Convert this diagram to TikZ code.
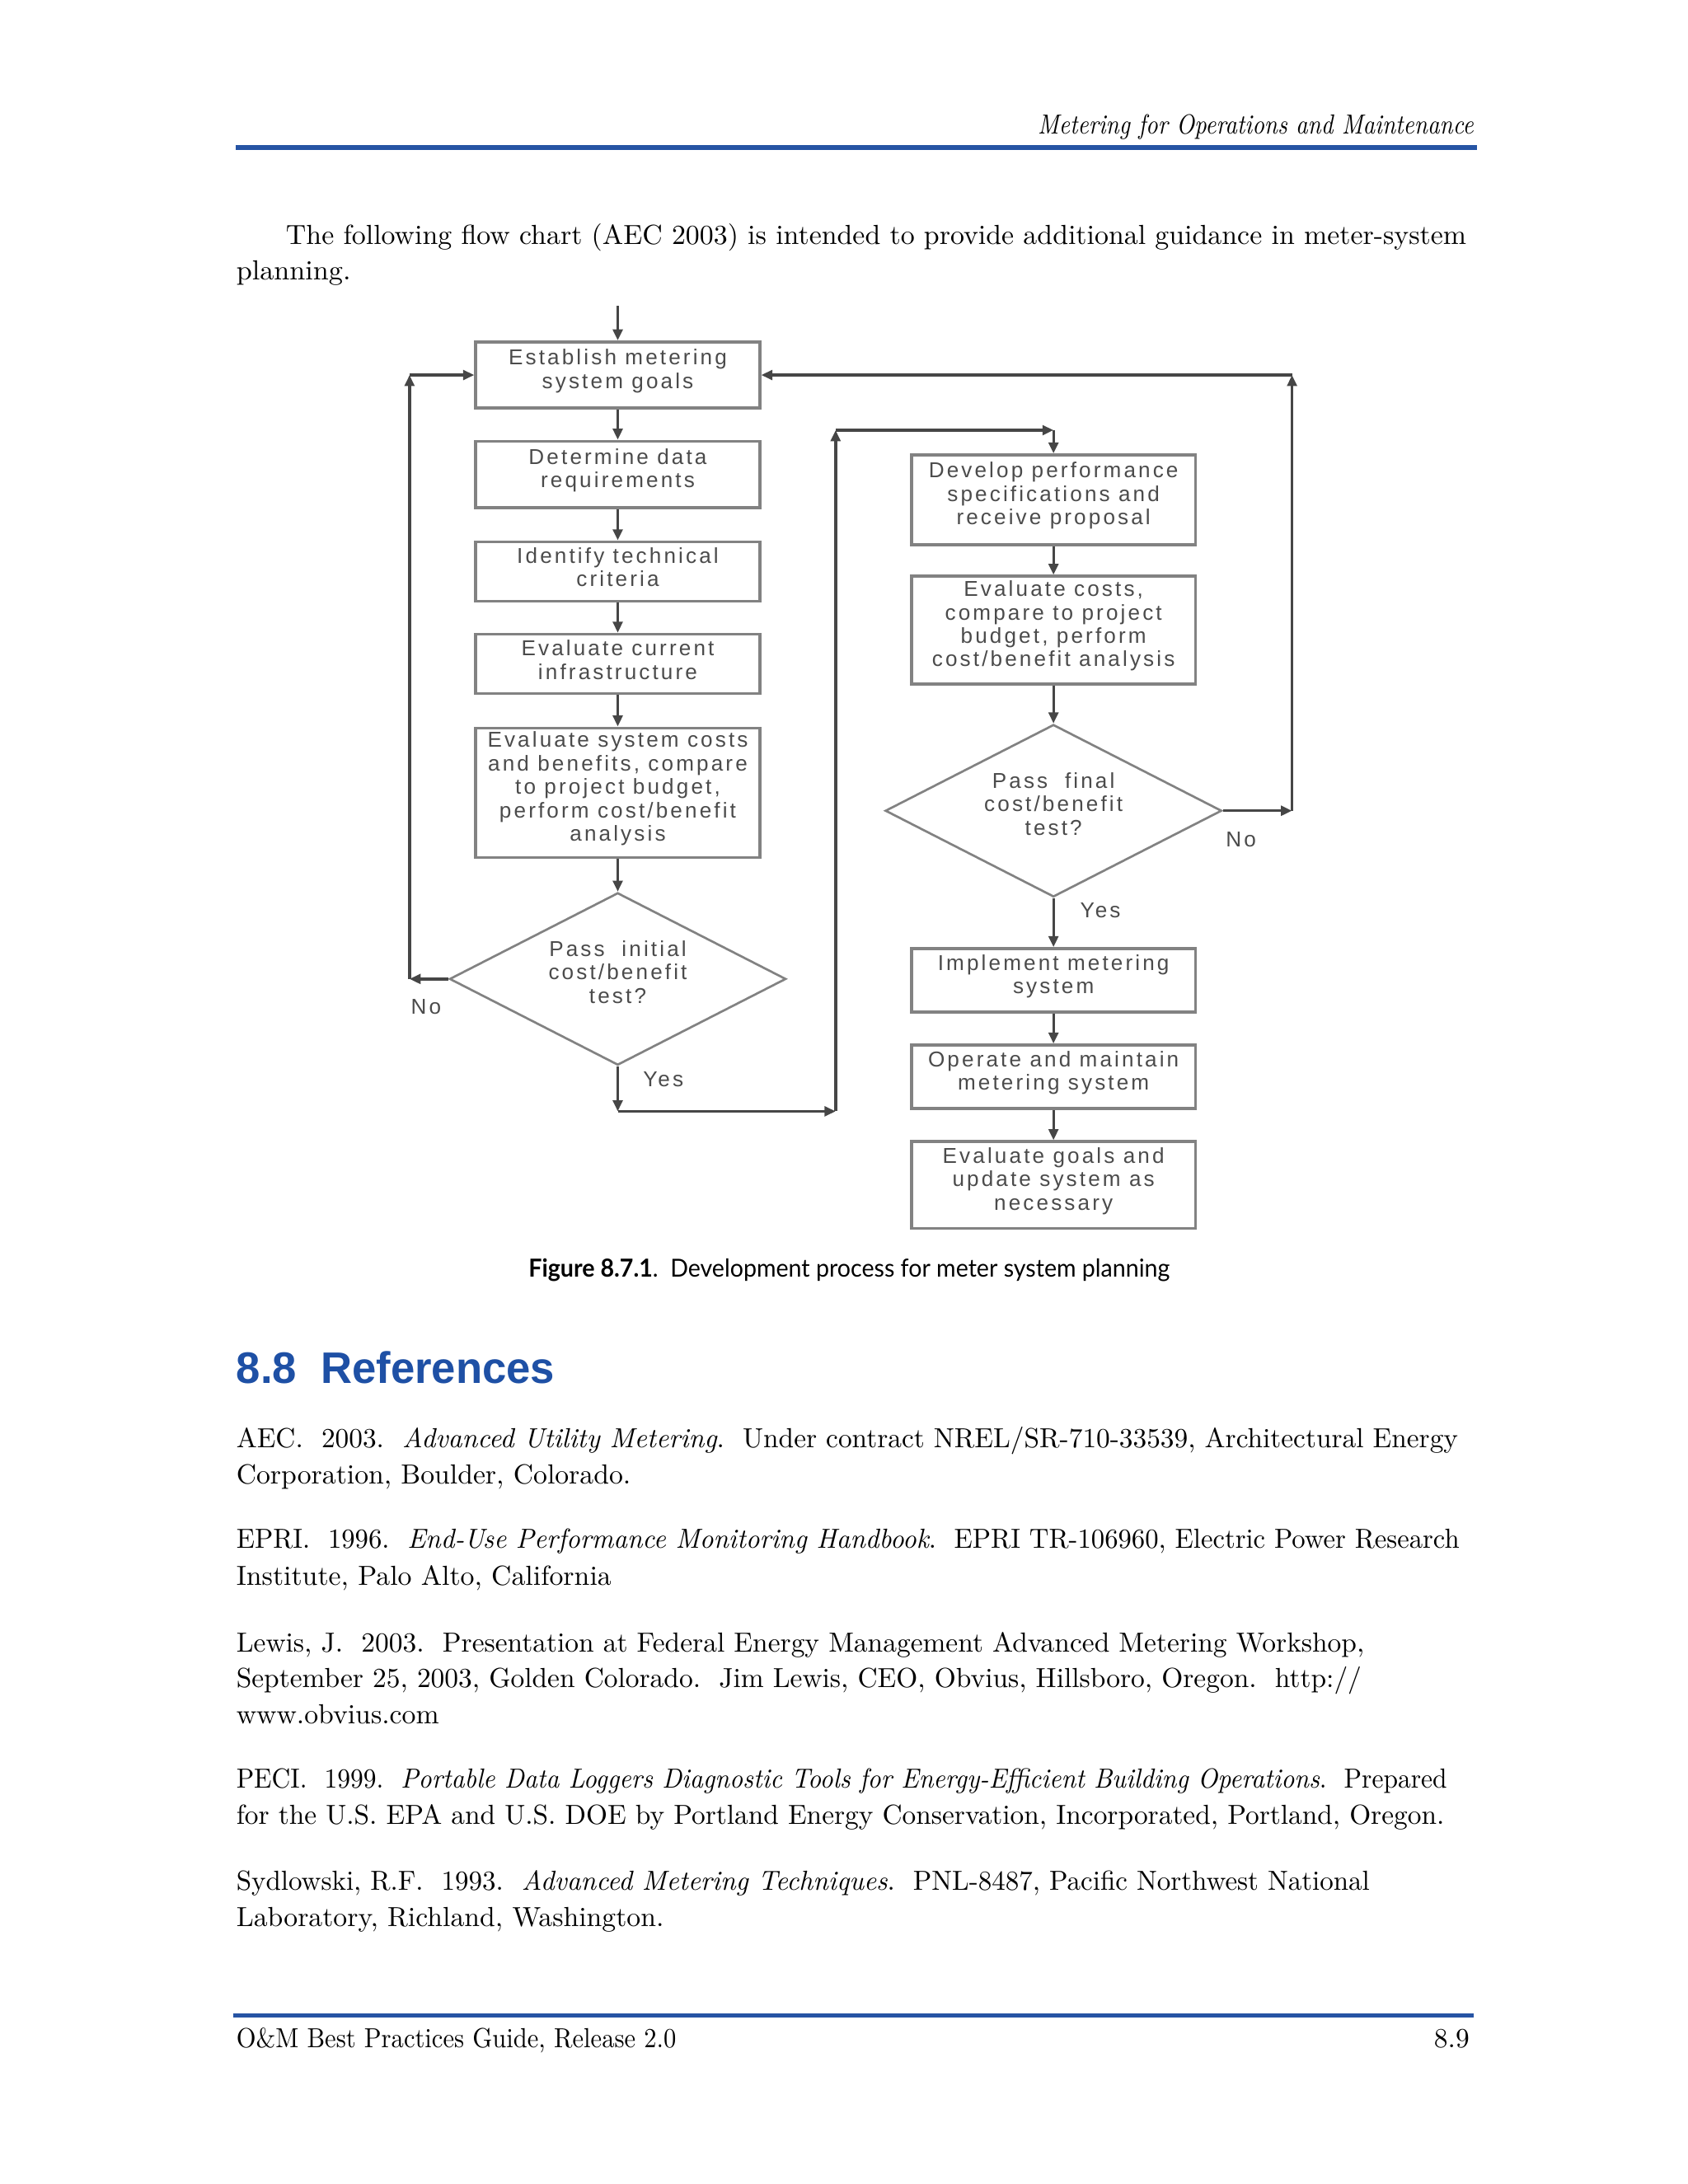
\documentclass[tikz,border=0pt]{standalone}
\usepackage{fontspec}
\usepackage{graphicx}
\usetikzlibrary{arrows.meta,shapes.geometric}
\newfontfamily\chartfont[LetterSpace=12]{Liberation Sans}
\newfontfamily\headfont{Liberation Sans}
\newfontfamily\capfont{Lato}
\definecolor{rulecol}{RGB}{38,84,164}
\definecolor{headblue}{RGB}{30,80,165}
\definecolor{ctext}{RGB}{75,75,75}
\definecolor{cbox}{RGB}{130,130,130}
\definecolor{cline}{RGB}{70,70,70}
\newcommand\fitw[2]{\resizebox{#1}{\height}{#2}}
\begin{document}
\begin{tikzpicture}[x=0.5pt,y=-0.5pt,
  body/.style={anchor=base west, inner sep=0pt, font=\fontsize{10}{12}\selectfont},
  pagerule/.style={draw=rulecol, line width=1.5pt},
  box/.style={draw=cbox, line width=1.1pt, minimum width=103pt, inner sep=0pt},
  dia/.style={diamond, draw=cbox, line width=0.8pt, inner sep=0pt, minimum width=122pt, minimum height=62.5pt, aspect=1.95},
  btext/.style={align=center, text=ctext, font=\chartfont\fontsize{7.8}{8.5}\selectfont, inner sep=0pt},
  lbl/.style={text=ctext, font=\chartfont\fontsize{7.8}{8.5}\selectfont, inner sep=0pt},
  arr/.style={draw=cline, line width=1pt, -{Triangle[length=4pt,width=3.5pt]}}
]
\useasboundingbox[fill=white] (0,0) rectangle (1224,1584);

% header
\node[body, anchor=base east, font=\fontsize{10}{12}\selectfont\itshape] (hdr) at (1069,97) {\fitw{158pt}{Metering for Operations and Maintenance}};
\draw[pagerule] (171,107) -- (1071,107);

% paragraph
\node[body] (p1) at (207,177) {\fitw{428pt}{The following flow chart (AEC 2003) is intended to provide additional guidance in meter-system}};
\node[body] (p2) at (171,203) {\fitw{41.5pt}{planning.}};

% flowchart left column
\node[box, minimum height=24pt] (b1) at (448,272) {};
\node[btext] (t1) at ([yshift=1.5pt]b1.center) {Establish metering\\system goals};
\node[box, minimum height=24pt] (b2) at (448,344) {};
\node[btext] (t2) at ([yshift=1.5pt]b2.center) {Determine data\\requirements};
\node[box, minimum height=21.5pt] (b3) at (448,414.5) {};
\node[btext] (t3) at ([yshift=1.5pt]b3.center) {Identify technical\\criteria};
\node[box, minimum height=21.5pt] (b4) at (448,481.5) {};
\node[btext] (t4) at ([yshift=1.5pt]b4.center) {Evaluate current\\infrastructure};
\node[box, minimum height=47pt] (b5) at (448,575) {};
\node[btext] (t5) at ([yshift=1.5pt]b5.center) {Evaluate system costs\\and benefits, compare\\to project budget,\\perform cost/benefit\\analysis};
\node[dia] (d1) at (448,710) {};
\node[btext] (td1) at ([yshift=2.5pt]d1.center) {Pass\ \ initial\\cost/benefit\\test?};

% right column
\node[box, minimum height=32.5pt] (b6) at (764,362.5) {};
\node[btext] (t6) at ([yshift=1.5pt]b6.center) {Develop performance\\specifications and\\receive proposal};
\node[box, minimum height=39pt] (b7) at (764,457) {};
\node[btext] (t7) at ([yshift=1.5pt]b7.center) {Evaluate costs,\\compare to project\\budget, perform\\cost/benefit analysis};
\node[dia] (d2) at (764,588) {};
\node[btext] (td2) at ([yshift=2.5pt]d2.center) {Pass\ \ final\\cost/benefit\\test?};
\node[box, minimum height=23pt] (b8) at (764,711) {};
\node[btext] (t8) at ([yshift=1.5pt]b8.center) {Implement metering\\system};
\node[box, minimum height=23pt] (b9) at (764,781) {};
\node[btext] (t9) at ([yshift=1.5pt]b9.center) {Operate and maintain\\metering system};
\node[box, minimum height=31.5pt] (b10) at (764,859.5) {};
\node[btext] (t10) at ([yshift=1.5pt]b10.center) {Evaluate goals and\\update system as\\necessary};

% labels
\node[lbl] (no1) at (309,730) {No};
\node[lbl] (yes1) at (481,783) {Yes};
\node[lbl] (no2) at (900,609) {No};
\node[lbl] (yes2) at (798,660) {Yes};

% connectors
\coordinate (in) at (448,222);
\draw[arr] (in) -- (b1.north);
\draw[arr] (b1) -- (b2);
\draw[arr] (b2) -- (b3);
\draw[arr] (b3) -- (b4);
\draw[arr] (b4) -- (b5);
\draw[arr] (b5) -- (d1);
\coordinate (l1) at (297,710);
\coordinate (l2) at (297,272);
\draw[arr] (d1.west) -- (l1);
\draw[arr] (l1) -- (l2);
\draw[arr] (l2) -- (b1.west);
\coordinate (y1) at (448,806);
\coordinate (y2) at (606,806);
\coordinate (y3) at (606,312);
\coordinate (y4) at (764,312);
\draw[arr] (d1.south) -- (y1);
\draw[arr] (y1) -- (y2);
\draw[arr] (y2) -- (y3);
\draw[arr] (y3) -- (y4);
\draw[arr] (y4) -- (b6.north);
\draw[arr] (b6) -- (b7);
\draw[arr] (b7) -- (d2);
\draw[arr] (d2) -- (b8);
\draw[arr] (b8) -- (b9);
\draw[arr] (b9) -- (b10);
\coordinate (r1) at (937,588);
\coordinate (r2) at (937,272);
\draw[arr] (d2.east) -- (r1);
\draw[arr] (r1) -- (r2);
\draw[arr] (r2) -- (b1.east);

% caption
\node[anchor=base west, inner sep=0pt, font=\capfont\fontsize{9}{11}\selectfont] (cap) at (383,926) {\fitw{232.5pt}{\textbf{Figure 8.7.1}.\ \ Development process for meter system planning}};

% heading
\node[body, font=\headfont\bfseries\fontsize{16}{19}\selectfont, text=headblue] (sec) at (171,1003) {\fitw{115.5pt}{8.8\ \ References}};

% references
\node[body] (r1a) at (171,1050) {\fitw{443pt}{AEC.\ \ 2003.\ \ \textit{Advanced Utility Metering}.\ \ Under contract NREL/SR-710-33539, Architectural Energy}};
\node[body] (r1b) at (171,1076) {\fitw{143pt}{Corporation, Boulder, Colorado.}};
\node[body] (r2a) at (171,1123) {\fitw{443.5pt}{EPRI.\ \ 1996.\ \ \textit{End-Use Performance Monitoring Handbook}.\ \ EPRI TR-106960, Electric Power Research}};
\node[body] (r2b) at (171,1150) {\fitw{136pt}{Institute, Palo Alto, California}};
\node[body] (r3a) at (171,1198) {\fitw{409pt}{Lewis, J.\ \ 2003.\ \ Presentation at Federal Energy Management Advanced Metering Workshop,}};
\node[body] (r3b) at (171,1224) {\fitw{408pt}{September 25, 2003, Golden Colorado.\ \ Jim Lewis, CEO, Obvius, Hillsboro, Oregon.\ \ http://}};
\node[body] (r3c) at (171,1250) {\fitw{73.5pt}{www.obvius.com}};
\node[body] (r4a) at (171,1297) {\fitw{439pt}{PECI.\ \ 1999.\ \ \textit{Portable Data Loggers Diagnostic Tools for Energy-Efficient Building Operations}.\ \ Prepared}};
\node[body] (r4b) at (171,1323) {\fitw{438pt}{for the U.S. EPA and U.S. DOE by Portland Energy Conservation, Incorporated, Portland, Oregon.}};
\node[body] (r5a) at (171,1371) {\fitw{411pt}{Sydlowski, R.F.\ \ 1993.\ \ \textit{Advanced Metering Techniques}.\ \ PNL-8487, Pacific Northwest National}};
\node[body] (r5b) at (171,1397) {\fitw{155pt}{Laboratory, Richland, Washington.}};

% footer
\draw[pagerule] (169,1462) -- (1069,1462);
\node[body] (ft) at (171,1485) {\fitw{159.5pt}{O\&M Best Practices Guide, Release 2.0}};
\node[body, anchor=base east] (pg) at (1066,1485) {8.9};
\end{tikzpicture}
\end{document}
